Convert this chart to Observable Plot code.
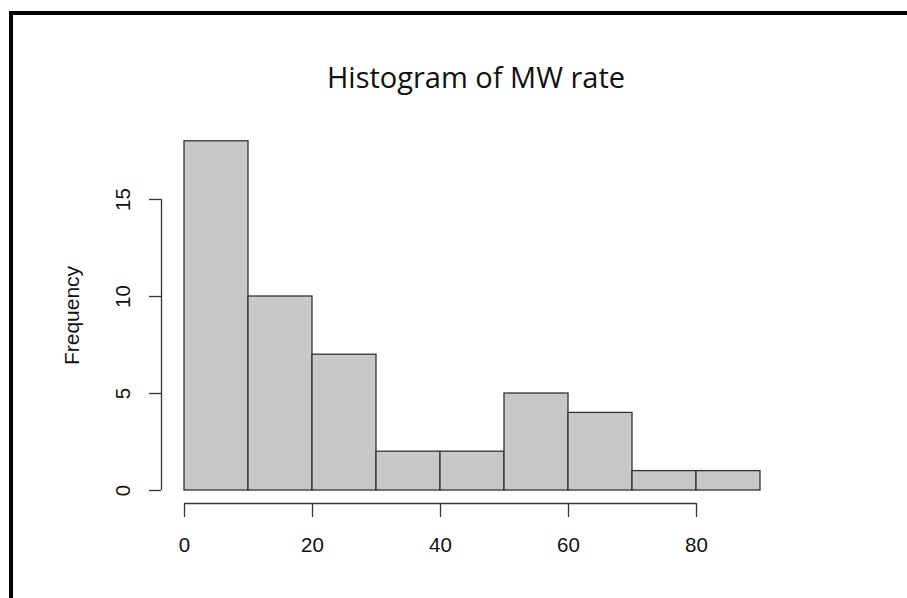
<!DOCTYPE html>
<html>
<head>
<meta charset="utf-8">
<script src="https://cdn.jsdelivr.net/npm/d3@7"></script>
<script src="https://cdn.jsdelivr.net/npm/@observablehq/plot@0.6"></script>
<style>
  html, body { margin: 0; padding: 0; background: #fff; width: 907px; height: 598px; overflow: hidden; }
  #wrap { position: relative; width: 907px; height: 598px; }
  #frame { position: absolute; left: 9px; top: 11px; width: 910px; height: 600px;
           border-left: 4px solid #000; border-top: 4px solid #000; box-sizing: border-box; }
  #title { position: absolute; left: 0; top: 62px; width: 952px; text-align: center;
           font-family: "Open Sans", sans-serif; font-size: 29px; line-height: 1; color: #111; }
  #chart { position: absolute; left: 0; top: 0; }
</style>
</head>
<body>
<div id="wrap">
  <div id="chart"></div>
  <div id="frame"></div>
  <div id="title">Histogram of MW rate</div>
</div>
<script>
const binStart = [0, 10, 20, 30, 40, 50, 60, 70, 80];
const binEnd   = [10, 20, 30, 40, 50, 60, 70, 80, 90];
const counts   = [18, 10, 7, 2, 2, 5, 4, 1, 1];
const xTicks   = [0, 20, 40, 60, 80];
const yTicks   = [0, 5, 10, 15];
const yLabel   = "Frequency";

const bins = binStart.map((s, i) => ({x1: s, x2: binEnd[i], y: counts[i]}));

const chart = Plot.plot({
  width: 907,
  height: 598,
  marginLeft: 161,
  marginRight: 100,
  marginTop: 127,
  marginBottom: 95,
  style: {fontFamily: "Liberation Sans, Arial, sans-serif", fontSize: "20px", color: "#111", background: "transparent"},
  x: {domain: [0, 80], range: [184, 696]},
  y: {domain: [0, 15], range: [490, 199]},
  marks: [
    Plot.rectY(bins, {x1: "x1", x2: "x2", y1: 0, y2: "y", fill: "#c8c8c8", stroke: "#333", strokeWidth: 1.3}),
    // x axis line
    Plot.ruleY([0], {x1: xTicks[0], x2: xTicks[xTicks.length - 1], dy: 13, stroke: "#333", strokeWidth: 1.3}),
    Plot.axisX({ticks: xTicks, tickSize: 14, tickPadding: 20, stroke: "#333", strokeWidth: 1.3, fill: "#111", fontSize: 20.5, label: null}),
    // y axis line
    Plot.ruleX([0], {y1: yTicks[0], y2: yTicks[yTicks.length - 1], dx: -23, stroke: "#333", strokeWidth: 1.3}),
    Plot.axisY({ticks: yTicks, tickSize: 12, tickFormat: () => "", stroke: "#333", strokeWidth: 1.3, label: null}),
    Plot.text(yTicks, {x: 0, y: d => d, dx: -61.5, rotate: -90, text: d => String(d), fill: "#111", fontSize: 20.5, textAnchor: "middle", lineAnchor: "middle"}),
    Plot.text([yLabel], {frameAnchor: "left", dx: -89.5, rotate: -90, fill: "#111", fontSize: 21, textAnchor: "middle", lineAnchor: "middle"})
  ]
});
document.getElementById("chart").appendChild(chart);
</script>
</body>
</html>
